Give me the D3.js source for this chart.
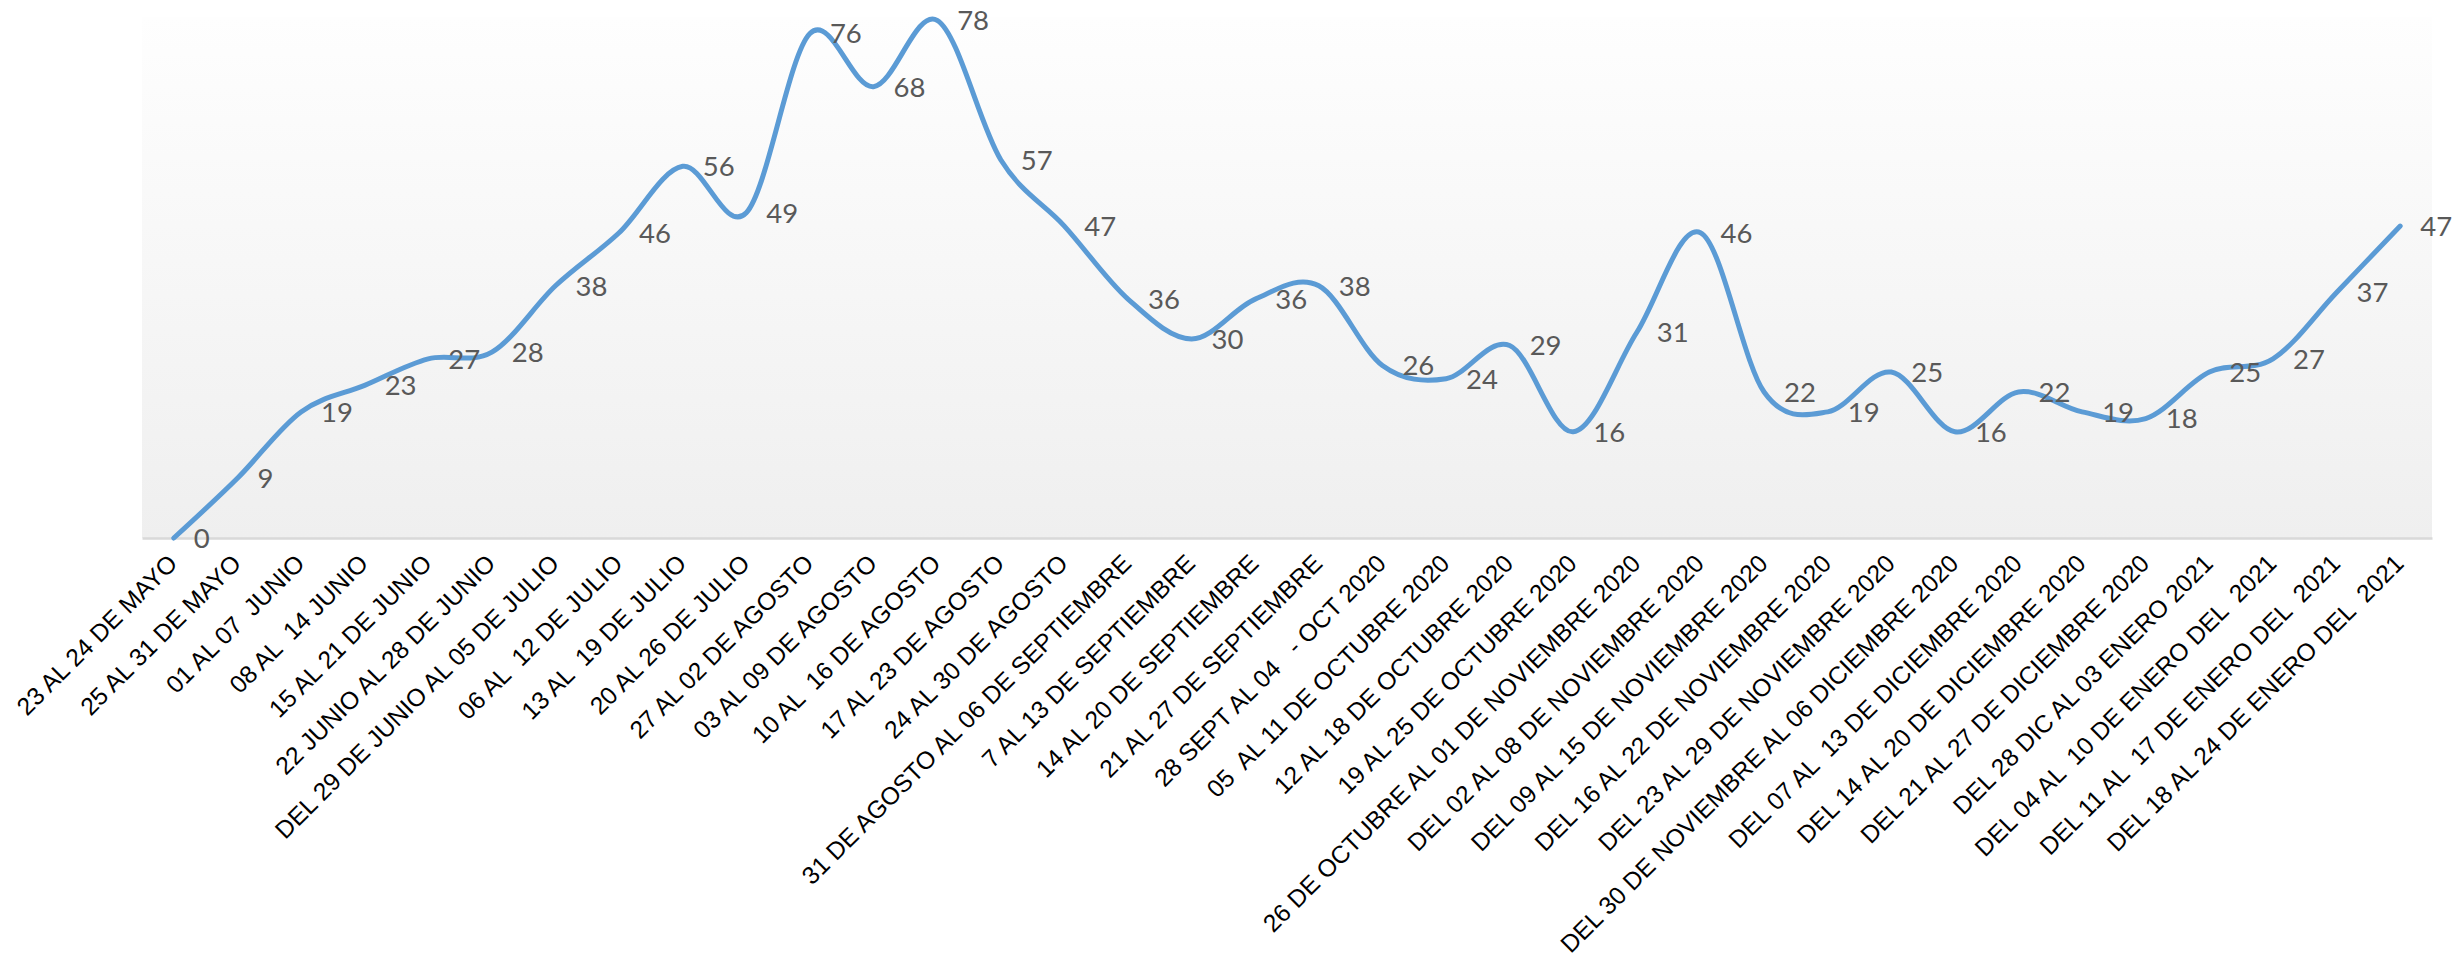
<!DOCTYPE html>
<html>
<head>
<meta charset="utf-8">
<script src="https://cdn.jsdelivr.net/npm/d3@7"></script>
<style>
  html, body { margin: 0; padding: 0; background: #ffffff; }
  svg { display: block; }
  .cat text { white-space: pre; }
</style>
</head>
<body>
<svg id="chart" width="2455" height="965"></svg>
<script>
const categories = [
  "23 AL 24 DE MAYO",
  "25 AL 31 DE MAYO",
  "01 AL 07  JUNIO",
  "08 AL  14 JUNIO",
  "15 AL 21 DE JUNIO",
  "22 JUNIO AL 28 DE JUNIO",
  "DEL 29 DE JUNIO AL 05 DE JULIO",
  "06 AL  12 DE JULIO",
  "13 AL  19 DE JULIO",
  "20 AL 26 DE JULIO",
  "27 AL 02 DE AGOSTO",
  "03 AL 09 DE AGOSTO",
  "10 AL  16 DE AGOSTO",
  "17 AL 23 DE AGOSTO",
  "24 AL 30 DE AGOSTO",
  "31 DE AGOSTO AL 06 DE SEPTIEMBRE",
  "7 AL 13 DE SEPTIEMBRE",
  "14 AL 20 DE SEPTIEMBRE",
  "21 AL 27 DE SEPTIEMBRE",
  "28 SEPT AL 04   - OCT 2020",
  "05  AL 11 DE OCTUBRE 2020",
  "12 AL 18 DE OCTUBRE 2020",
  "19 AL 25 DE OCTUBRE 2020",
  "26 DE OCTUBRE AL 01 DE NOVIEMBRE 2020",
  "DEL 02 AL 08 DE NOVIEMBRE 2020",
  "DEL 09 AL 15 DE NOVIEMBRE 2020",
  "DEL 16 AL 22 DE NOVIEMBRE 2020",
  "DEL 23 AL 29 DE NOVIEMBRE 2020",
  "DEL 30 DE NOVIEMBRE AL 06 DICIEMBRE 2020",
  "DEL 07 AL  13 DE DICIEMBRE 2020",
  "DEL 14 AL 20 DE DICIEMBRE 2020",
  "DEL 21 AL 27 DE DICIEMBRE 2020",
  "DEL 28 DIC AL 03 ENERO 2021",
  "DEL 04 AL  10 DE ENERO DEL  2021",
  "DEL 11 AL  17 DE ENERO DEL  2021",
  "DEL 18 AL 24 DE ENERO DEL  2021"
];
const values = [0, 9, 19, 23, 27, 28, 38, 46, 56, 49, 76, 68, 78, 57, 47, 36, 30, 36, 38, 26, 24, 29, 16, 31, 46, 22, 19, 25, 16, 22, 19, 18, 25, 27, 37, 47];

const svg = d3.select("#chart");
const plot = { left: 142, right: 2432, top: 17, bottom: 538 };

const x = d3.scaleBand().domain(categories).range([plot.left, plot.right]).padding(0);
const y = d3.scaleLinear().domain([0, 78.5]).range([plot.bottom, plot.top]);
const cx = d => x(d) + x.bandwidth() / 2;

// plot area gradient
const defs = svg.append("defs");
const grad = defs.append("linearGradient").attr("id", "bg").attr("x1", 0).attr("y1", 0).attr("x2", 0).attr("y2", 1);
grad.append("stop").attr("offset", "0%").attr("stop-color", "#fefefe");
grad.append("stop").attr("offset", "100%").attr("stop-color", "#efefef");

svg.append("rect")
  .attr("x", plot.left).attr("y", plot.top)
  .attr("width", plot.right - plot.left).attr("height", plot.bottom - plot.top)
  .attr("fill", "url(#bg)");

// x axis
const xAxis = svg.append("g")
  .attr("class", "cat")
  .attr("transform", `translate(0,${plot.bottom})`)
  .call(d3.axisBottom(x).tickSize(0).tickSizeOuter(0));
xAxis.select(".domain").attr("stroke", "#d9d9d9").attr("stroke-width", 2.5);
xAxis.selectAll("text")
  .attr("font-family", "'Liberation Sans', Arial, sans-serif")
  .attr("font-size", 24.6)
  .attr("fill", "#000")
  .attr("text-anchor", "end")
  .attr("dy", null)
  .attr("y", 0)
  .attr("transform", "translate(5,27) rotate(-45)");

// line
const line = d3.line()
  .x((d, i) => cx(categories[i]))
  .y(d => y(d))
  .curve(d3.curveCatmullRom.alpha(0));

svg.append("path")
  .datum(values)
  .attr("d", line)
  .attr("fill", "none")
  .attr("stroke", "#5b9bd5")
  .attr("stroke-width", 5)
  .attr("stroke-linecap", "round")
  .attr("stroke-linejoin", "round");

// data labels
svg.append("g").selectAll("text")
  .data(values)
  .join("text")
  .attr("x", (d, i) => cx(categories[i]) + 20)
  .attr("y", d => y(d))
  .attr("dy", "0.36em")
  .attr("font-family", "Lato, 'Open Sans', sans-serif")
  .attr("font-size", 27.5)
  .attr("fill", "#595959")
  .text(d => d);
</script>
</body>
</html>
